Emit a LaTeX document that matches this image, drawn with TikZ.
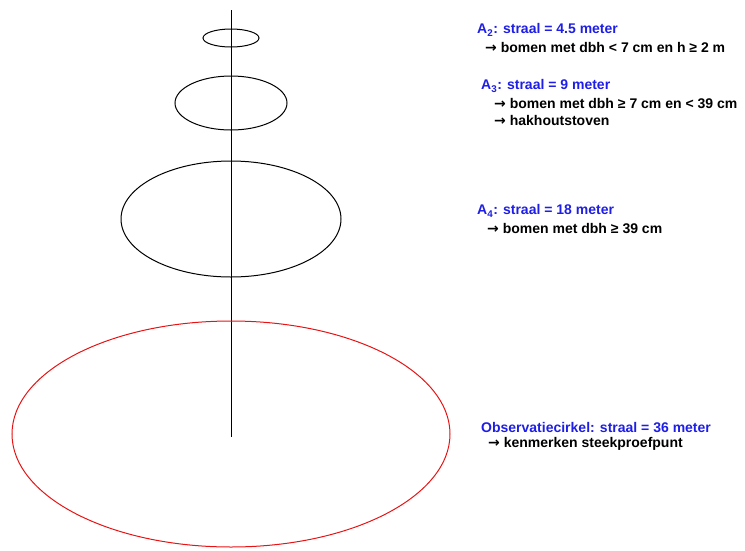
\documentclass[tikz,border=0pt]{standalone}
\usepackage{fontspec}
\setmainfont{Liberation Sans}
\newfontfamily\arrowfont{DejaVu Sans}
\newcommand{\pijl}{{\arrowfont\bfseries →}}
\definecolor{labelblue}{RGB}{30,30,230}
\definecolor{circred}{RGB}{230,20,20}
\tikzset{
  plot/.style={line width=1pt},
  head/.style={anchor=west,inner sep=0pt,font=\fontsize{14}{16}\selectfont\bfseries,text=labelblue},
  item/.style={anchor=west,inner sep=0pt,font=\fontsize{14}{16}\selectfont\bfseries}
}
\begin{document}
\begin{tikzpicture}[x=1pt,y=-1pt]
\useasboundingbox (0,0) rectangle (745,550);
% as en cirkels
\draw[plot] (231,10)--(231,437);
\draw[plot] (231,38) ellipse (28 and 9);
\draw[plot] (231,103) ellipse (56 and 27);
\draw[plot] (231,219) ellipse (110 and 58);
\draw[plot,circred] (231,434) ellipse (219 and 113);
% teksten
\node[head] (a2) at (477,30) {A\textsubscript{2}: straal = 4.5 meter};
\node[item] (a2b) at (485,47) {\pijl\ bomen met dbh < 7 cm en h ≥ 2 m};
\node[head] (a3) at (481,86) {A\textsubscript{3}: straal = 9 meter};
\node[item] (a3b) at (494,103) {\pijl\ bomen met dbh ≥ 7 cm en < 39 cm};
\node[item] (a3c) at (494,120) {\pijl\ hakhoutstoven};
\node[head] (a4) at (477,211) {A\textsubscript{4}: straal = 18 meter};
\node[item] (a4b) at (487,228) {\pijl\ bomen met dbh ≥ 39 cm};
\node[head] (obs) at (481,427) {Observatiecirkel: straal = 36 meter};
\node[item] (obsb) at (488,444) {\pijl\ kenmerken steekproefpunt};
\end{tikzpicture}
\end{document}
